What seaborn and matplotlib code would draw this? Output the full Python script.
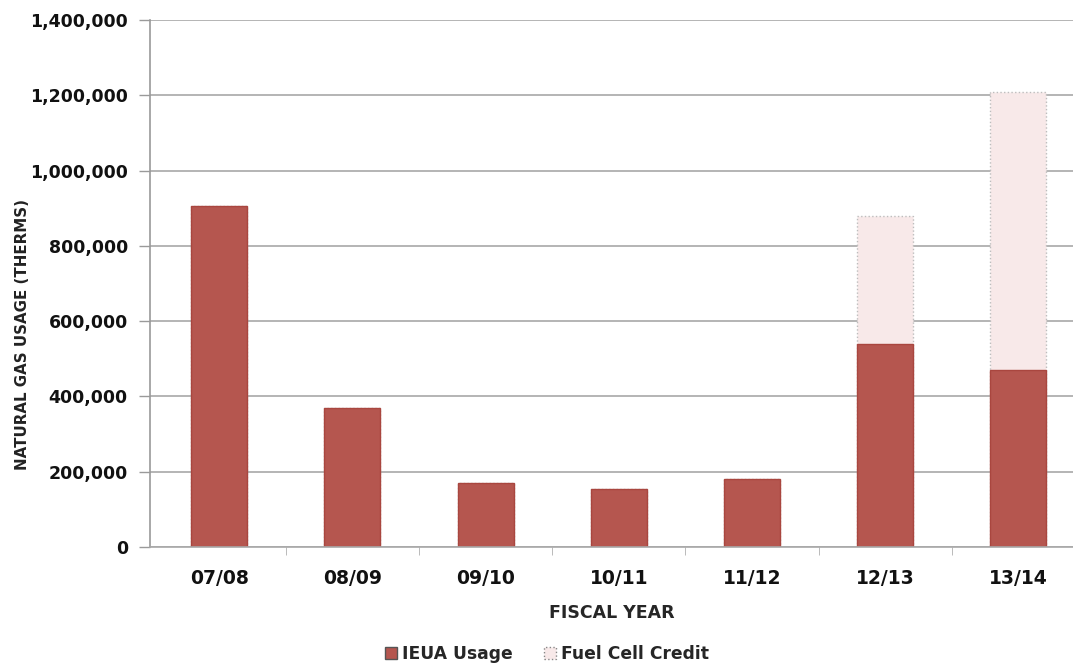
import pandas as pd
import matplotlib.pyplot as plt
from matplotlib.patches import Patch
from matplotlib.ticker import FuncFormatter
import seaborn as sns

years = ['07/08', '08/09', '09/10', '10/11', '11/12', '12/13', '13/14']
ieua_usage = [905000, 370000, 170000, 155000, 180000, 540000, 470000]
fuel_cell_credit = [0, 0, 0, 0, 0, 340000, 740000]

df = pd.DataFrame({'year': years, 'usage': ieua_usage, 'credit': fuel_cell_credit})
df['total'] = df['usage'] + df['credit']

sns.set_style('white')
plt.rcParams['font.family'] = ['DejaVu Sans']

fig = plt.figure(figsize=(10.73, 6.69), dpi=100)
ax = fig.add_axes([0.1398, 0.1823, 0.8602, 0.7877])

# stacked: total drawn first in pale pink, usage on top of it
sns.barplot(data=df, x='year', y='total', color='#f8e9e9', saturation=1,
            width=0.42, edgecolor='#bdbdbd', linewidth=1.0, linestyle=':', ax=ax)
sns.barplot(data=df, x='year', y='usage', color='#b5564f', saturation=1,
            width=0.42, edgecolor='#a9463f', linewidth=1.0, ax=ax)

ax.set_ylim(0, 1400000)
ax.set_xlim(-0.52, 6.41)
ax.set_yticks(range(0, 1400001, 200000))
ax.yaxis.set_major_formatter(FuncFormatter(lambda v, p: f'{int(v):,}'))
ax.set_axisbelow(True)
ax.yaxis.grid(True, color='#a8a8a8', linewidth=1.2)

for s in ['top', 'right']:
    ax.spines[s].set_visible(False)
ax.spines['left'].set_color('#9a9a9a')
ax.spines['left'].set_linewidth(1.2)
ax.spines['bottom'].set_color('#a8a8a8')
ax.spines['bottom'].set_linewidth(1.2)

ax.tick_params(axis='y', length=8, width=1.0, color='#9a9a9a', pad=8,
               left=True, labelsize=12.5)
ax.tick_params(axis='x', length=0, pad=16, labelsize=13.5)
for lab in ax.get_xticklabels() + ax.get_yticklabels():
    lab.set_fontweight('bold')
    lab.set_color('#111111')

# small separators between categories on the x axis
ax.set_xticks([i + 0.5 for i in range(len(years) - 1)], minor=True)
ax.tick_params(axis='x', which='minor', length=6, color='#b0b0b0', bottom=True)

ax.set_xlabel('FISCAL YEAR', fontsize=12.5, fontweight='bold', labelpad=11)
ax.set_ylabel('')
# y label sits in the narrow left margin, so place it by hand
fig.text(0.021, 0.50, 'NATURAL GAS USAGE (THERMS)', rotation=90, ha='center', va='center',
         fontsize=10.8, fontweight='bold', color='#222222')

handles = [Patch(facecolor='#b5564f', edgecolor='#555555', label='IEUA Usage'),
           Patch(facecolor='#f8e9e9', edgecolor='#888888', linestyle=':', label='Fuel Cell Credit')]
fig.legend(handles=handles, loc='lower center', bbox_to_anchor=(0.51, -0.014), ncol=2,
           frameon=False, prop={'size': 12.3, 'weight': 'bold'}, handlelength=0.7,
           handleheight=0.7, handletextpad=0.3, columnspacing=1.8)

fig.savefig('out.png', dpi=100)
